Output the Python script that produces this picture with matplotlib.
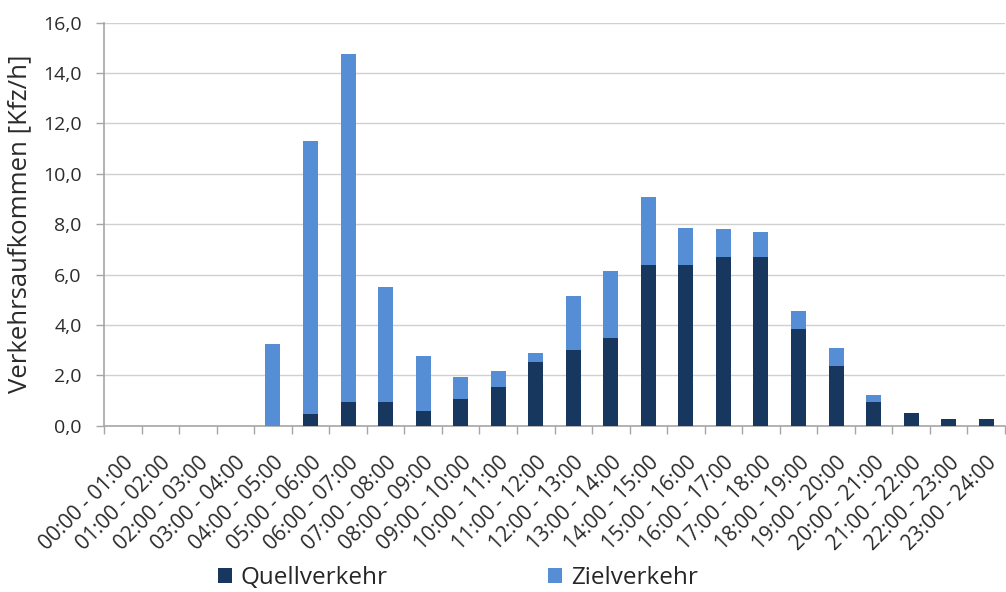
import matplotlib
matplotlib.use("Agg")
import matplotlib.pyplot as plt
import numpy as np

# Hourly traffic volumes [Kfz/h]
hours = [f"{h:02d}:00 - {h + 1:02d}:00" for h in range(24)]
quellverkehr = [0.0, 0.0, 0.0, 0.0, 0.0, 0.48, 0.95, 0.95, 0.60, 1.07, 1.55, 2.53,
                3.00, 3.48, 6.37, 6.37, 6.71, 6.71, 3.84, 2.38, 0.95, 0.49, 0.25, 0.25]
zielverkehr = [0.0, 0.0, 0.0, 0.0, 3.24, 10.81, 13.81, 4.57, 2.17, 0.86, 0.62, 0.37,
               2.16, 2.67, 2.72, 1.47, 1.10, 0.98, 0.73, 0.69, 0.26, 0.0, 0.0, 0.0]
y_ticks = [0, 2, 4, 6, 8, 10, 12, 14, 16]

dark = "#17375E"
light = "#558ED5"
text_col = "#2B2B2B"

plt.rcParams["font.family"] = ["Open Sans", "DejaVu Sans"]

fig = plt.figure(figsize=(10.06, 5.92), dpi=100)
ax = fig.add_axes([104 / 1006, 1 - 425.7 / 592, (1005 - 104) / 1006, (425.7 - 22.7) / 592])

x = np.arange(len(hours))
ax.bar(x, quellverkehr, width=0.4, color=dark, label="Quellverkehr", zorder=3)
ax.bar(x, zielverkehr, width=0.4, bottom=quellverkehr, color=light,
       label="Zielverkehr", zorder=3)

ax.set_xlim(-0.5, len(hours) - 0.5)
ax.set_ylim(0, 16)
ax.set_yticks(y_ticks)
ax.set_yticklabels([f"{v:.1f}".replace(".", ",") for v in y_ticks], fontsize=14, color=text_col)
ax.yaxis.grid(True, color="#D0D0D0", linewidth=1.0, zorder=0)
ax.set_axisbelow(True)

# category labels centred on bars, tick marks on category boundaries
ax.set_xticks(x)
ax.set_xticklabels(hours, rotation=45, ha="right", va="top", rotation_mode="anchor",
                   fontsize=15, color=text_col)
ax.tick_params(axis="x", length=0, pad=19)
ax.set_xticks(np.arange(-0.5, len(hours) + 0.5, 1), minor=True)
ax.tick_params(axis="x", which="minor", length=6, color="#A6A6A6", width=1)
ax.tick_params(axis="y", length=6, color="#A6A6A6", width=1, pad=10)

for side in ("top", "right"):
    ax.spines[side].set_visible(False)
for side in ("left", "bottom"):
    ax.spines[side].set_color("#A6A6A6")
    ax.spines[side].set_linewidth(1.2)

ax.set_ylabel("Verkehrsaufkommen [Kfz/h]", fontsize=18.5, color=text_col, labelpad=8)

fig.legend(loc="center", bbox_to_anchor=(458 / 1006, 1 - 578 / 592), ncol=2,
           frameon=False, fontsize=17.5, handlelength=0.58, handleheight=0.58,
           handletextpad=0.35, columnspacing=6.6, labelcolor="#262626")

fig.savefig("out.png", dpi=100)
